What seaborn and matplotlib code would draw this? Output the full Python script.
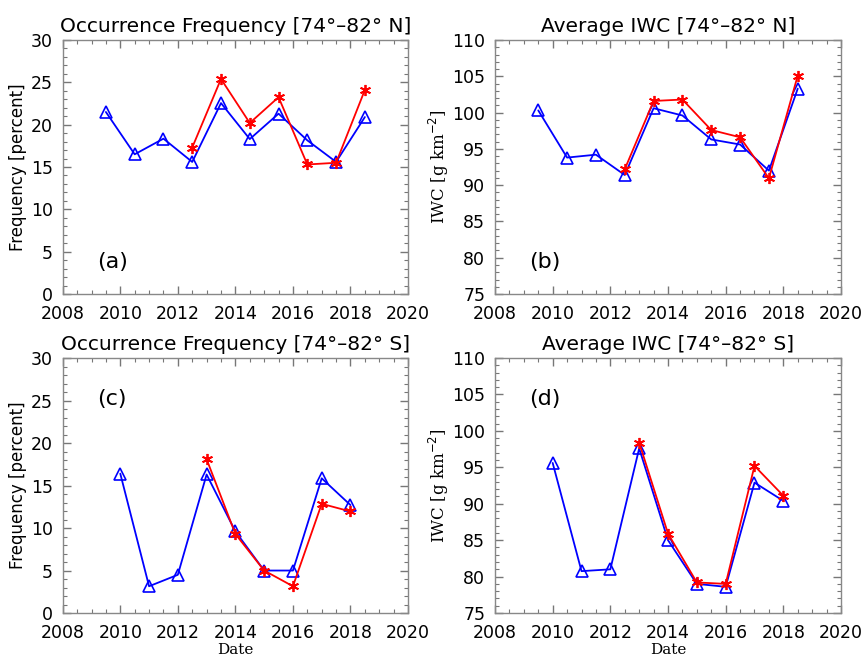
import numpy as np
import pandas as pd
import matplotlib
matplotlib.use('Agg')
import matplotlib.pyplot as plt
from matplotlib.ticker import MultipleLocator
import seaborn as sns

# ─── Data ──────────────────────────────────────────────────────
years_n = [2009.5, 2010.5, 2011.5, 2012.5, 2013.5, 2014.5, 2015.5, 2016.5, 2017.5, 2018.5]
years_n_red = [2012.5, 2013.5, 2014.5, 2015.5, 2016.5, 2017.5, 2018.5]
years_s = [2010, 2011, 2012, 2013, 2014, 2015, 2016, 2017, 2018]
years_s_red = [2013, 2014, 2015, 2016, 2017, 2018]

freq_n_blue = [21.5, 16.5, 18.35, 15.6, 22.55, 18.3, 21.3, 18.15, 15.6, 20.9]
freq_n_red = [17.3, 25.4, 20.2, 23.25, 15.3, 15.5, 24.1]
iwc_n_blue = [100.3, 93.8, 94.2, 91.4, 100.6, 99.6, 96.3, 95.6, 92.0, 103.3]
iwc_n_red = [92.2, 101.6, 101.8, 97.6, 96.6, 90.95, 105.1]

freq_s_blue = [16.4, 3.15, 4.5, 16.3, 9.6, 5.0, 5.0, 15.85, 12.7]
freq_s_red = [18.1, 9.3, 5.0, 3.15, 12.85, 11.95]
iwc_s_blue = [95.6, 80.75, 81.0, 97.6, 85.0, 79.0, 78.6, 92.9, 90.4]
iwc_s_red = [98.4, 85.9, 79.2, 79.0, 95.2, 91.1]

titles = ['Occurrence Frequency [74°–82° N]', 'Average IWC [74°–82° N]',
          'Occurrence Frequency [74°–82° S]', 'Average IWC [74°–82° S]']
panel_tags = ['(a)', '(b)', '(c)', '(d)']

sns.set_style('ticks')
plt.rcParams['font.family'] = ['DejaVu Sans']
plt.rcParams['text.color'] = 'black'
plt.rcParams['axes.labelcolor'] = 'black'

fig = plt.figure(figsize=(8.63, 6.56), dpi=100)
boxes = [[0.0727, 0.5518, 0.4001, 0.3872],
         [0.5736, 0.5518, 0.4009, 0.3872],
         [0.0727, 0.0655, 0.4001, 0.3887],
         [0.5736, 0.0655, 0.4009, 0.3887]]

panels = [
    (years_n, freq_n_blue, years_n_red, freq_n_red, 'freq'),
    (years_n, iwc_n_blue, years_n_red, iwc_n_red, 'iwc'),
    (years_s, freq_s_blue, years_s_red, freq_s_red, 'freq'),
    (years_s, iwc_s_blue, years_s_red, iwc_s_red, 'iwc'),
]

star = (6, 2, 0)
for i, (xb, yb, xr, yr, kind) in enumerate(panels):
    ax = fig.add_axes(boxes[i])
    sns.lineplot(x=xb, y=yb, ax=ax, color='blue', lw=1.3, marker='^',
                 markersize=9, markerfacecolor='none', markeredgecolor='blue',
                 markeredgewidth=1.2)
    sns.lineplot(x=xr, y=yr, ax=ax, color='red', lw=1.3, marker=star,
                 markersize=8, markeredgecolor='red', markeredgewidth=1.3)

    ax.set_xlim(2008, 2020)
    ax.xaxis.set_major_locator(MultipleLocator(2))
    ax.xaxis.set_minor_locator(MultipleLocator(0.5))
    if kind == 'freq':
        ax.set_ylim(0, 30)
        ax.set_ylabel('Frequency [percent]', fontsize=12, labelpad=3)
    else:
        ax.set_ylim(75, 110)
        ax.set_ylabel('IWC [g km$^{-2}$]', fontsize=12, labelpad=1,
                      family='DejaVu Serif')
    ax.yaxis.set_major_locator(MultipleLocator(5))
    ax.yaxis.set_minor_locator(MultipleLocator(1))

    ax.tick_params(which='both', direction='in', top=True, right=True,
                   colors='#777777', labelcolor='black', labelsize=12.5)
    ax.tick_params(which='major', length=6, width=1)
    ax.tick_params(which='minor', length=3, width=0.8)
    ax.tick_params(axis='x', pad=8)
    ax.tick_params(axis='y', pad=7)
    for sp in ax.spines.values():
        sp.set_color('#888888')
        sp.set_linewidth(1.0)

    ax.set_title(titles[i], fontsize=14.5, pad=6, color='black')
    if i >= 2:
        ax.set_xlabel('Date', fontsize=11, family='DejaVu Serif', labelpad=0.5)
        tag_y = 0.84
    else:
        ax.set_xlabel('')
        tag_y = 0.125
    ax.text(0.1, tag_y, panel_tags[i], transform=ax.transAxes, fontsize=16,
            va='center', ha='left')

fig.savefig('out.png', dpi=100)
